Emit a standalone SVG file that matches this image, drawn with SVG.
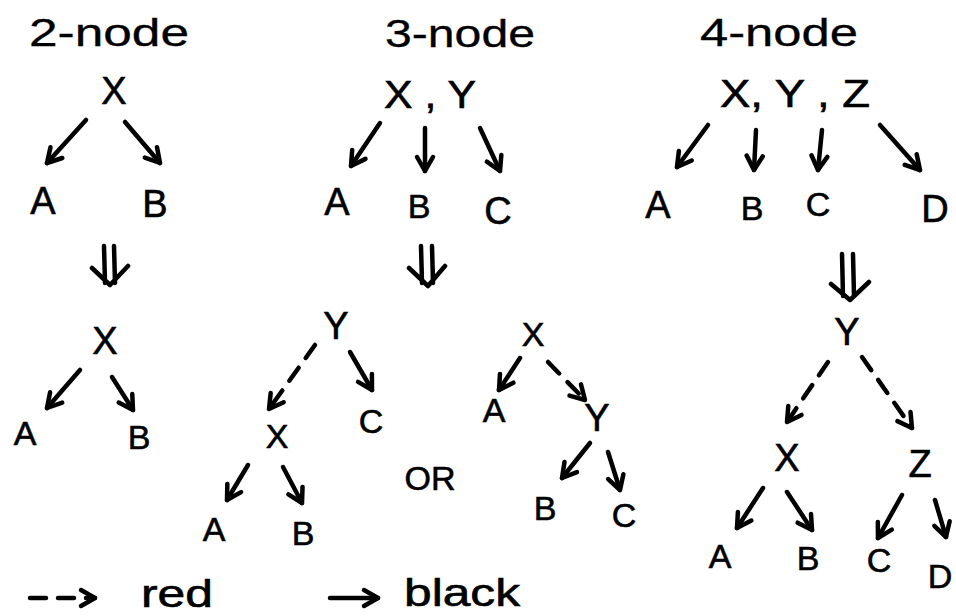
<svg xmlns="http://www.w3.org/2000/svg" width="956" height="616" viewBox="0 0 956 616">
  <style>
    text { font-family: "Liberation Sans", "DejaVu Sans", sans-serif; fill: #000; stroke: #000; stroke-width: 0.6; text-anchor: middle; }
    .head { font-size: 38px; stroke-width: 0.3; }
    .lbl { font-size: 38px; }
    .sm { font-size: 34px; }
    .edge { fill: none; stroke: #000; stroke-width: 4.5; stroke-linecap: round; stroke-linejoin: round; }
    .dash { stroke-dasharray: 16 12; }
    .xf { fill: none; stroke: #000; stroke-width: 4.5; stroke-linecap: round; stroke-linejoin: round; }
  </style>
  <defs>
    <marker id="head" markerUnits="userSpaceOnUse" viewBox="0 0 20 20" refX="16" refY="10" markerWidth="20" markerHeight="20" orient="auto" overflow="visible">
      <path d="M2,2 L16,10 L2,18" fill="none" stroke="#000" stroke-width="4.5" stroke-linecap="round" stroke-linejoin="round"/>
    </marker>
  </defs>
  <rect width="956" height="616" fill="#fff"/>

  <!-- section headings -->
  <g id="heading-2node"><text class="head" x="109" y="46" textLength="160" lengthAdjust="spacingAndGlyphs">2-node</text></g>
  <g id="heading-3node"><text class="head" x="460" y="47" textLength="150" lengthAdjust="spacingAndGlyphs">3-node</text></g>
  <g id="heading-4node"><text class="head" x="779" y="46" textLength="158" lengthAdjust="spacingAndGlyphs">4-node</text></g>

  <!-- 2-node: before -->
  <g id="n2-X"><text class="lbl" x="114" y="104">X</text></g>
  <g id="n2-A"><text class="lbl" x="43" y="214">A</text></g>
  <g id="n2-B"><text class="lbl" x="155" y="217">B</text></g>
  <!-- 2-node: after -->
  <g id="n2b-X"><text class="lbl" x="105" y="354">X</text></g>
  <g id="n2b-A"><text class="sm" x="25" y="445">A</text></g>
  <g id="n2b-B"><text class="sm" x="139" y="449">B</text></g>

  <!-- 3-node: before -->
  <g id="n3-XY"><text class="lbl" x="430" y="108" textLength="92" lengthAdjust="spacingAndGlyphs">X , Y</text></g>
  <g id="n3-A"><text class="lbl" x="337" y="215">A</text></g>
  <g id="n3-B"><text class="sm" x="419" y="218">B</text></g>
  <g id="n3-C"><text class="lbl" x="498" y="224">C</text></g>
  <!-- 3-node: after, option 1 -->
  <g id="n3a-Y"><text class="lbl" x="336" y="339">Y</text></g>
  <g id="n3a-X"><text class="sm" x="277" y="448">X</text></g>
  <g id="n3a-C"><text class="sm" x="371" y="433">C</text></g>
  <g id="n3a-A"><text class="sm" x="214" y="541">A</text></g>
  <g id="n3a-B"><text class="sm" x="303" y="545">B</text></g>
  <g id="or"><text class="sm" x="430" y="490">OR</text></g>
  <!-- 3-node: after, option 2 -->
  <g id="n3b-X"><text class="sm" x="533" y="346">X</text></g>
  <g id="n3b-A"><text class="sm" x="494" y="422">A</text></g>
  <g id="n3b-Y"><text class="lbl" x="597" y="431">Y</text></g>
  <g id="n3b-B"><text class="sm" x="545" y="520">B</text></g>
  <g id="n3b-C"><text class="sm" x="624" y="527">C</text></g>

  <!-- 4-node: before -->
  <g id="n4-XYZ"><text class="lbl" x="795" y="107" textLength="150" lengthAdjust="spacingAndGlyphs">X, Y , Z</text></g>
  <g id="n4-A"><text class="lbl" x="658" y="218">A</text></g>
  <g id="n4-B"><text class="sm" x="752" y="220">B</text></g>
  <g id="n4-C"><text class="sm" x="818" y="216">C</text></g>
  <g id="n4-D"><text class="lbl" x="935" y="222">D</text></g>
  <!-- 4-node: after -->
  <g id="n4b-Y"><text class="lbl" x="847" y="345">Y</text></g>
  <g id="n4b-X"><text class="lbl" x="787" y="471">X</text></g>
  <g id="n4b-Z"><text class="lbl" x="920" y="477">Z</text></g>
  <g id="n4b-A"><text class="sm" x="720" y="568">A</text></g>
  <g id="n4b-B"><text class="sm" x="808" y="570">B</text></g>
  <g id="n4b-C"><text class="sm" x="879" y="572">C</text></g>
  <g id="n4b-D"><text class="sm" x="940" y="588">D</text></g>

  <!-- legend -->
  <g id="legend-red"><text class="lbl" x="177" y="607" textLength="72" lengthAdjust="spacingAndGlyphs">red</text></g>
  <g id="legend-black"><text class="lbl" x="462" y="606" textLength="116" lengthAdjust="spacingAndGlyphs">black</text></g>

  <!-- transformation symbols (double-shafted down arrows) -->
  <g id="transforms">
    <path class="xf" d="M104,246 L105,283 M114,246 L115,283 M92,268 L110,285 L128,266"/>
    <path class="xf" d="M421,246 L422,283 M432,246 L433,283 M409,268 L428,286 L445,266"/>
    <path class="xf" d="M842,254 L843,296 M853,254 L854,296 M831,284 L850,300 L869,282"/>
  </g>

  <!-- connectors -->
  <g id="connectors" marker-end="url(#head)">
    <!-- 2-node -->
    <path class="edge" d="M86,120 L47,163"/>
    <path class="edge" d="M125,122 L160,163"/>
    <path class="edge" d="M80,370 L47,408"/>
    <path class="edge" d="M112,377 L133,410"/>
    <!-- 3-node -->
    <path class="edge" d="M380,123 L351,166"/>
    <path class="edge" d="M425,128 L425,171"/>
    <path class="edge" d="M480,128 L500,171"/>
    <path class="edge dash" d="M315,345 L269,409"/>
    <path class="edge" d="M350,352 L372,390"/>
    <path class="edge" d="M248,465 L227,500"/>
    <path class="edge" d="M283,467 L302,503"/>
    <path class="edge" d="M520,358 L499,390"/>
    <path class="edge dash" d="M548,362 L585,400"/>
    <path class="edge" d="M590,443 L562,478"/>
    <path class="edge" d="M608,452 L620,490"/>
    <!-- 4-node -->
    <path class="edge" d="M708,125 L677,167"/>
    <path class="edge" d="M756,130 L754,170"/>
    <path class="edge" d="M822,130 L818,170"/>
    <path class="edge" d="M880,125 L920,170"/>
    <path class="edge dash" d="M828,362 L787,422"/>
    <path class="edge dash" d="M862,357 L912,428"/>
    <path class="edge" d="M763,488 L737,528"/>
    <path class="edge" d="M787,492 L812,530"/>
    <path class="edge" d="M902,495 L878,538"/>
    <path class="edge" d="M935,500 L946,537"/>
    <!-- legend samples -->
    <path class="edge dash" d="M30,598 L95,598" stroke-dasharray="18 12"/>
    <path class="edge" d="M330,598 L378,598"/>
  </g>
</svg>
